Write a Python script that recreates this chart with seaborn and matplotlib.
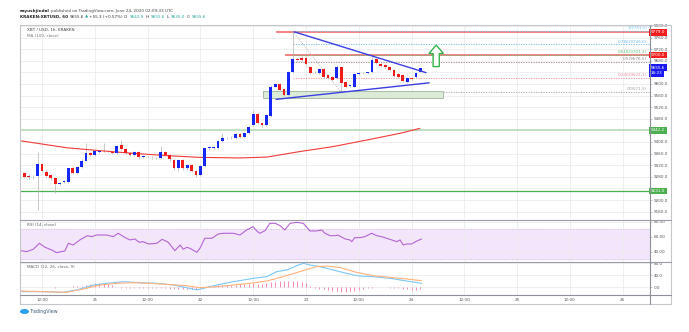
import matplotlib
matplotlib.use("Agg")
import numpy as np
import matplotlib.pyplot as plt
import seaborn as sns
from matplotlib.lines import Line2D
from matplotlib.patches import Rectangle, FancyArrow, Ellipse

# ---------------- data (hours relative to 20 Jun 2020 12:00, hourly candles) ----------------
first_hour = -5
opens = [9309, 9292, 9283, 9279, 9283, 9323, 9298, 9286, 9275, 9256,
         9261, 9263, 9309, 9292, 9315, 9336, 9363, 9355, 9366, 9370,
         9369, 9367, 9363, 9390, 9375, 9361, 9355, 9366, 9347, 9348,
         9347, 9345, 9344, 9366, 9356, 9338, 9309, 9338, 9309, 9321,
         9301, 9286, 9317, 9378, 9380, 9380, 9404, 9414, 9413, 9414,
         9427, 9417, 9431, 9459, 9497, 9465, 9457, 9490, 9591, 9599,
         9582, 9562, 9642, 9685, 9691, 9691, 9660, 9642, 9639, 9651,
         9631, 9625, 9620, 9660, 9608, 9593, 9591, 9636, 9637, 9638,
         9640, 9685, 9668, 9665, 9657, 9648, 9634, 9631, 9608, 9621,
         9623, 9642.9]
closes = [9289, 9280, 9278, 9281, 9323, 9301, 9283, 9275, 9255, 9260,
          9265, 9309, 9292, 9315, 9336, 9363, 9355, 9369, 9370, 9369,
          9370, 9363, 9386, 9375, 9361, 9355, 9366, 9347, 9352, 9349,
          9348, 9344, 9366, 9356, 9340, 9309, 9338, 9309, 9321, 9301,
          9286, 9317, 9378, 9382, 9381, 9404, 9414, 9413, 9415, 9427,
          9417, 9431, 9453, 9497, 9465, 9457, 9493, 9591, 9599, 9579,
          9562, 9642, 9685, 9683, 9684, 9668, 9637, 9641, 9651, 9625,
          9620, 9614, 9660, 9602, 9591, 9595, 9633, 9637, 9638, 9640,
          9683, 9673, 9662, 9657, 9648, 9628, 9625, 9611, 9620, 9617,
          9639, 9655.6]
highs = [9312, 9295, 9288, 9286, 9367, 9327, 9302, 9289, 9278, 9263,
         9268, 9312, 9313, 9318, 9340, 9397, 9367, 9372, 9374, 9398,
         9373, 9370, 9390, 9407, 9378, 9364, 9369, 9369, 9355, 9352,
         9351, 9349, 9385, 9370, 9359, 9341, 9342, 9341, 9325, 9324,
         9304, 9320, 9381, 9386, 9386, 9408, 9430, 9418, 9419, 9430,
         9430, 9434, 9456, 9510, 9500, 9468, 9496, 9595, 9603, 9603,
         9585, 9646, 9781.5, 9690, 9695, 9694, 9663, 9645, 9655, 9654,
         9634, 9628, 9664, 9663, 9611, 9598, 9636, 9640, 9641, 9643,
         9695, 9688, 9671, 9668, 9660, 9651, 9637, 9634, 9623, 9624,
         9642, 9656]
lows = [9285, 9276, 9272, 9274, 9166, 9297, 9279, 9270, 9225, 9252,
        9258, 9260, 9288, 9289, 9312, 9333, 9350, 9352, 9362, 9365,
        9366, 9360, 9360, 9372, 9357, 9351, 9352, 9343, 9344, 9345,
        9342, 9340, 9341, 9352, 9336, 9305, 9300, 9302, 9305, 9297,
        9280, 9283, 9314, 9373, 9376, 9377, 9401, 9410, 9410, 9411,
        9414, 9414, 9428, 9455, 9461, 9453, 9454, 9487, 9588, 9575,
        9558, 9559, 9638, 9680, 9676, 9664, 9633, 9637, 9636, 9621,
        9616, 9610, 9616, 9571.5, 9586, 9589, 9588, 9632, 9634, 9635,
        9637, 9669, 9658, 9653, 9644, 9624, 9621, 9607, 9604, 9613,
        9620, 9640]
macd_hist = [-1, -1, 0, -1, 1, 0, -1, -1, -2, -1, 0, 1, 2, 3,
             5, 8, 10, 12, 12, 11, 9, 6,
             -1, -2, -2, -3, -3, -4, -3, -3, -4, -4, -5, -5, -6, -6, -7, -6, -7, -8, -6, -3,
             1, 3, 5, 6, 7, 7, 8, 8, 9, 9,
             10, 12, 11, 11, 13, 17, 18, 19, 20, 21, 21, 19, 17, 14,
             2, -3, -6, -8, -10, -12, -15, -18,
             -16, -14, -12, -10, -8, -5, -2, 0, 1, 0, -2, -4, -5, -7, -8, -9, -9, -8]

ma_hours = [-4.8, 5.7, 13.2, 20.7, 28.4, 35.9, 45.0, 51.1, 58.6, 66.1, 73.9, 81.4, 85.9]
ma_values = [9404, 9380, 9370, 9361, 9353, 9347, 9345, 9348, 9367, 9384, 9407, 9430, 9447]

rsi_hours = [-4.8, -3.5, -2.0, -0.6, 0.7, 2.2, 3.3, 5.2, 6.0, 7.1, 8.6, 10.3, 11.3, 12.4, 14.7,
             16.2, 17.3, 18.9, 20.0, 21.1, 22.1, 23.0, 24.2, 26.1, 27.3, 28.7, 30.2, 31.4, 32.1,
             32.9, 33.6, 35.2, 35.9, 37.0, 38.6, 40.1, 41.2, 43.5, 45.0, 46.5, 48.0, 48.8, 49.5,
             50.7, 51.8, 53.0, 54.1, 55.2, 56.4, 57.9, 59.4, 60.9, 62.4, 63.6, 64.3, 65.5, 66.6,
             67.3, 68.9, 70.0, 70.4, 71.1, 72.3, 73.4, 74.9, 76.1, 77.2, 78.3, 79.5, 80.6, 81.4,
             82.1, 82.9, 84.0, 85.2, 86.3]
rsi_values = [41.3, 40.0, 43.1, 51.1, 45.8, 42.2, 38.7, 40.9, 51.1, 48.9, 55.6, 61.3, 60.0, 62.2, 62.2,
              60.0, 64.5, 58.7, 55.6, 56.9, 52.5, 53.3, 50.2, 51.1, 56.5, 52.5, 41.3, 48.9, 43.1,
              45.8, 44.5, 39.1, 44.5, 57.8, 57.8, 63.6, 64.5, 64.5, 62.2, 68.9, 73.3, 67.6, 64.5,
              68.0, 77.8, 77.8, 74.7, 68.9, 77.8, 79.1, 77.8, 67.6, 67.6, 68.9, 64.5, 61.3, 61.3,
              62.0, 56.9, 55.6, 53.3, 58.7, 58.7, 60.0, 64.5, 61.3, 60.0, 57.8, 55.6, 53.3, 55.6,
              48.9, 50.2, 50.2, 54.2, 56.9]

macd_hours = [-4.8, 0.3, 4.8, 7.9, 11.7, 14.7, 18.5, 22.3, 26.1, 29.8, 32.9, 35.2, 36.7, 39.7,
              43.5, 48.0, 51.1, 53.3, 55.6, 57.9, 59.4, 60.9, 63.2, 66.2, 67.7, 70.8, 72.3, 75.3,
              79.1, 82.9, 86.3]
macd_values = [-15.8, -15.8, -18, -10, 6.8, 12.4, 18, 14.7, 12.4, 6.8, -2.3, -10, -4.5, 6.8,
               18, 29.4, 35, 52, 57.6, 72.3, 80.2, 74.6, 69, 57.6, 52, 40.7, 37.3, 35,
               29.4, 20.3, 12.4]
signal_hours = [-4.8, 0.3, 5.6, 9.4, 13.2, 17.0, 20.8, 24.5, 28.3, 32.9, 35.9, 39.7, 43.5, 47.3,
                51.1, 54.8, 58.6, 62.4, 64.7, 67.7, 71.5, 75.3, 79.1, 82.9, 86.3]
signal_values = [-13.6, -15.8, -18, -6.8, 6.8, 12.4, 14.7, 12.4, 9, 4.5, -2.3, 1, 6.8, 12.4,
                 20.3, 35, 52, 69, 71.2, 66, 49.7, 38.4, 32.8, 27.1, 21.5]

price_ticks = [9160, 9200, 9240, 9280, 9320, 9360, 9400, 9440, 9480, 9520, 9560, 9600, 9640,
               9680, 9720, 9760, 9800]
hidden_price_ticks = [9240, 9440, 9640]   # covered by the coloured price tags
time_ticks = [0, 12, 24, 36, 48, 60, 72, 84, 96, 108, 120, 132]
time_labels = ["12:00", "21", "12:00", "22", "12:00", "23", "12:00", "24", "12:00", "25", "12:00", "26"]

resist_levels = [9779.0, 9700.0]
resist_start = [53.2, 55.2]
support_levels = [9440.0, 9231.0]
fib_levels = [9781.5, 9736.6, 9701.3, 9676.5, 9621.1, 9571.5]
fib_labels = ["1(9781.5)", "0.786(9736.6)", "0.618(9701.3)", "0.5(9676.5)", "0.236(9621.1)", "0(9571.5)"]
fib_colors = ["#7cc3ea", "#6fb8e6", "#5dba72", "#9a7f8a", "#f08a96", "#a3a3a3"]
fib_anchor_hours = [57, 68]
desc_line_hours = [57.3, 87.3]
desc_line_prices = [9780, 9639]
asc_line_hours = [53.2, 88.0]
asc_line_prices = [9547, 9604]
zone_hours = [50.2, 91.2]
zone_prices = [9553, 9577]

# ---------------- figure ----------------
sns.set_theme(style="white")
plt.rcParams['font.family'] = ['DejaVu Sans']
W, H = 689, 332
fig = plt.figure(figsize=(W / 100, H / 100), dpi=100)
fig.patch.set_facecolor("white")

def fx(x):
    return x / W

def fy(y):
    return 1 - y / H

XL, XR = 20, 650
ax_p = fig.add_axes([fx(XL), fy(219), (XR - XL) / W, (219 - 25) / H])
ax_r = fig.add_axes([fx(XL), fy(262), (XR - XL) / W, (262 - 220) / H])
ax_m = fig.add_axes([fx(XL), fy(295), (XR - XL) / W, (295 - 262) / H])

xlim = (-5.0, 138.2)
FS = 3.0
grid_c = "#ececec"
tick_c = "#555555"

for ax in (ax_p, ax_r, ax_m):
    ax.set_xlim(*xlim)
    for s in ax.spines.values():
        s.set_visible(False)
    ax.set_facecolor("white")
    ax.yaxis.tick_right()
    ax.tick_params(axis="y", length=1.5, width=0.4, color="#999999", labelsize=FS,
                   labelcolor=tick_c, pad=1.5)
    ax.set_xticks(time_ticks)
    ax.grid(True, color=grid_c, linewidth=0.6)
    ax.set_axisbelow(True)

ax_p.tick_params(axis="x", length=0, labelbottom=False)
ax_r.tick_params(axis="x", length=0, labelbottom=False)
ax_m.set_xticklabels(time_labels)
ax_m.tick_params(axis="x", length=0, labelsize=FS, labelcolor=tick_c, pad=2.5)

# ---------------- price panel ----------------
ax_p.set_ylim(9134.5, 9803.4)
ax_p.set_yticks(price_ticks)
ax_p.set_yticklabels(["" if v in hidden_price_ticks else f"{v:.1f}" for v in price_ticks])

hours = np.arange(first_hour, first_hour + len(opens))
o = np.array(opens); c = np.array(closes)
up = c >= o
body_h = np.maximum(np.abs(c - o), 1.6)
body_b = np.minimum(o, c)
ax_p.vlines(hours, lows, highs, color="#b4b4b4", linewidth=0.5, zorder=3)
ax_p.bar(hours[up], body_h[up], bottom=body_b[up], width=0.62, color="#1626f5", linewidth=0, zorder=4)
ax_p.bar(hours[~up], body_h[~up], bottom=body_b[~up], width=0.62, color="#f01c1c", linewidth=0, zorder=4)

sns.lineplot(x=ma_hours, y=ma_values, ax=ax_p, color="#f23a3a", linewidth=0.8, zorder=3)

# support lines
ax_p.axhline(support_levels[0], color="#b0dbb0", linewidth=1.1, zorder=2)
ax_p.axhline(support_levels[1], color="#4caf50", linewidth=0.9, zorder=2)
# resistance lines
for lvl, st in zip(resist_levels, resist_start):
    ax_p.hlines(lvl, st, xlim[1], color="#f26262", linewidth=1.1, zorder=2)

# fib retracement
for lvl, lab, col in zip(fib_levels, fib_labels, fib_colors):
    ax_p.hlines(lvl, fib_anchor_hours[0], xlim[1], color=col, linewidth=0.6,
                linestyle=(0, (1.5, 1.5)), zorder=2)
    ax_p.text(137.6, lvl + 3, lab, ha="right", va="bottom", fontsize=FS, color=col, zorder=6)
ax_p.plot(fib_anchor_hours, [fib_levels[0], fib_levels[-1]], color="#bdbdbd", linewidth=0.6,
          linestyle=(0, (1.5, 1.5)), zorder=2)

# consolidation zone
ax_p.add_patch(Rectangle((zone_hours[0], zone_prices[0]), zone_hours[1] - zone_hours[0],
                         zone_prices[1] - zone_prices[0], facecolor="#dcebd7",
                         edgecolor="#9fb69b", linewidth=0.6, zorder=2.5))

# triangle trend lines
ax_p.plot(desc_line_hours, desc_line_prices, color="#3b3fe0", linewidth=1.0, zorder=5)
ax_p.plot(asc_line_hours, asc_line_prices, color="#3b3fe0", linewidth=1.0, zorder=5)

# breakout arrow
ax_p.add_patch(FancyArrow(89.6, 9660, 0, 74, width=1.4, head_width=3.3, head_length=29,
                          length_includes_head=True, facecolor="white", edgecolor="#34b44a",
                          linewidth=1.0, zorder=6))

# right price tags
def tag(ax, val, text, color, offset=0.0):
    ax.annotate(text, xy=(1.0015, val), xycoords=ax.get_yaxis_transform(),
                xytext=(0, offset), textcoords="offset points",
                fontsize=FS, color="white", ha="left", va="center", zorder=10,
                annotation_clip=False,
                bbox=dict(boxstyle="square,pad=0.35", facecolor=color, edgecolor="none"))

tag(ax_p, resist_levels[0], f"{resist_levels[0]:.1f}", "#f21d1d")
tag(ax_p, resist_levels[1], f"{resist_levels[1]:.1f}", "#f21d1d")
tag(ax_p, closes[-1], f"{closes[-1]:.1f}", "#1a1af0")
tag(ax_p, closes[-1], "18:23", "#1a1af0", offset=-4.0)
tag(ax_p, support_levels[0], f"{support_levels[0] + 2.2:.1f}", "#4caf50")
tag(ax_p, support_levels[1], f"{support_levels[1]:.1f}", "#4caf50")

ax_p.text(0.011, 0.982, "XBT / USD, 1h, KRAKEN", transform=ax_p.transAxes, fontsize=FS,
          color="#444444", va="top", ha="left")
ax_p.text(0.011, 0.955, "MA (100, close)", transform=ax_p.transAxes, fontsize=FS,
          color="#777777", va="top", ha="left")

# ---------------- RSI panel ----------------
ax_r.set_ylim(26.2, 82.2)
ax_r.set_yticks([40, 60, 80])
ax_r.set_yticklabels(["40.00", "60.00", "80.00"])
ax_r.axhspan(30, 70, color="#f3e6fc", zorder=0.5)
for lvl in (30, 70):
    ax_r.axhline(lvl, color="#c9c2cf", linewidth=0.5, linestyle=(0, (2, 2)), zorder=1)
sns.lineplot(x=rsi_hours, y=rsi_values, ax=ax_r, color="#b564d3", linewidth=0.8, zorder=3)
ax_r.text(0.011, 0.93, "RSI (14, close)", transform=ax_r.transAxes, fontsize=FS,
          color="#666666", va="top", ha="left")

# ---------------- MACD panel ----------------
ax_m.set_ylim(-27.1, 84.75)
ax_m.set_yticks([0, 40, 80])
ax_m.set_yticklabels(["0.0", "40.0", "80.0"])
ax_m.vlines(hours, 0, macd_hist, color="#f588b4", linewidth=0.7, zorder=2)
sns.lineplot(x=macd_hours, y=macd_values, ax=ax_m, color="#7cc7f6", linewidth=0.8, zorder=3)
sns.lineplot(x=signal_hours, y=signal_values, ax=ax_m, color="#ffb17c", linewidth=0.8, zorder=3)
ax_m.text(0.011, 0.9, "MACD (12, 26, close, 9)", transform=ax_m.transAxes, fontsize=FS,
          color="#666666", va="top", ha="left")
for ax in (ax_p, ax_r, ax_m):
    ax.set_xlabel(""); ax.set_ylabel("")

# ---------------- frame lines ----------------
def fline(xs, ys, color, lw):
    fig.add_artist(Line2D([fx(v) for v in xs], [fy(v) for v in ys], color=color,
                          linewidth=lw, transform=fig.transFigure, zorder=20))

fline([20, 671, 671, 20, 20], [25, 25, 304, 304, 25], "#c5c7cc", 0.8)
fline([20, 671], [219.5, 219.5], "#9a9da5", 0.8)
fline([20, 671], [262, 262], "#9a9da5", 0.8)
fline([20, 671], [295, 295], "#8d9098", 0.8)
fline([650, 650], [25, 304], "#8d9098", 0.8)

# ---------------- header ----------------
renderer = fig.canvas.get_renderer()

def seq_text(x_px, y_px, pieces, gap=1.2):
    x = x_px
    for s, color, weight in pieces:
        t = fig.text(fx(x), fy(y_px), s, fontsize=FS, color=color, fontweight=weight,
                     va="center", ha="left")
        bb = t.get_window_extent(renderer=renderer)
        x = bb.x1 + gap

seq_text(20, 11, [("aayushjindal", "#222222", "bold"),
                  ("published on TradingView.com, June 24, 2020 02:09:33 UTC", "#444444", "normal")])
teal = "#26a69a"
seq_text(20, 16.7, [("KRAKEN:XBTUSD, 60", "#222222", "bold"),
                    ("9655.6", "#333333", "normal"), ("\u25b2", teal, "normal"),
                    ("+55.3 (+0.57%)", "#333333", "normal"),
                    ("O:", "#333333", "normal"), ("9642.9", teal, "normal"),
                    ("H:", "#333333", "normal"), ("9655.6", teal, "normal"),
                    ("L:", "#333333", "normal"), ("9635.0", teal, "normal"),
                    ("C:", "#333333", "normal"), ("9655.6", teal, "normal")])

# TradingView logo
fig.add_artist(Ellipse((fx(24.5), fy(311.5)), 9 / W, 5 / H, transform=fig.transFigure,
                       facecolor="#2b9ef0", edgecolor="none"))
fig.text(fx(30), fy(311.5), "TradingView", fontsize=FS + 0.4, color="#3d5a78",
         va="center", ha="left")

fig.savefig("out.png", dpi=100, facecolor="white")
